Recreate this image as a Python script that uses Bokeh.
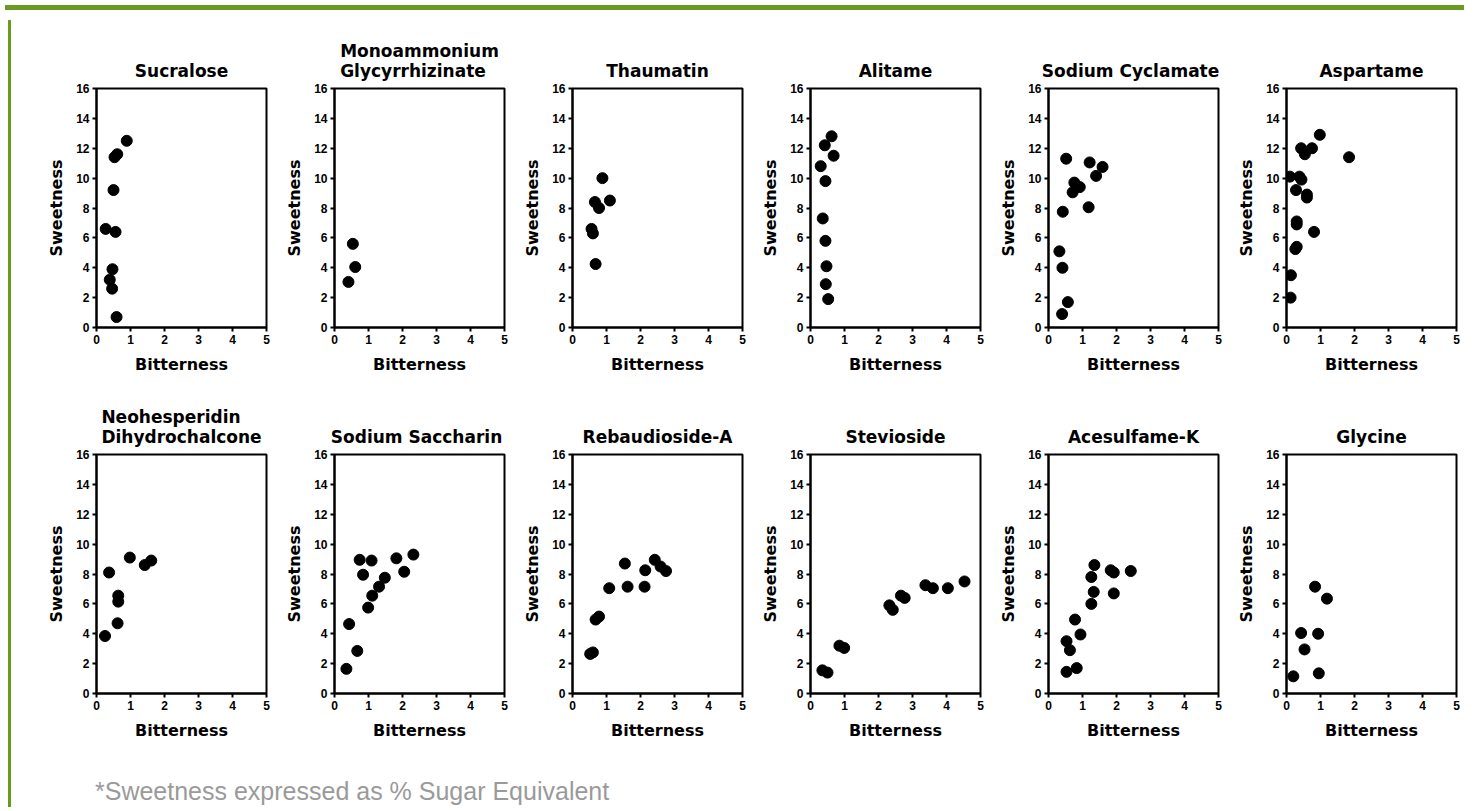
from bokeh.plotting import figure
from bokeh.layouts import row, column
from bokeh.models import Range1d, Div, Spacer, FixedTicker
from bokeh.embed import file_html
from bokeh.resources import INLINE

# ---------------- data ----------------
titles_top = ["Sucralose", "Monoammonium\nGlycyrrhizinate", "Thaumatin",
              "Alitame", "Sodium  Cyclamate", "Aspartame"]
titles_bottom = ["Neohesperidin\nDihydrochalcone", "Sodium  Saccharin",
                 "Rebaudioside-A", "Stevioside", "Acesulfame-K", "Glycine"]

x_ticks = [0, 1, 2, 3, 4, 5]
y_ticks = [0, 2, 4, 6, 8, 10, 12, 14, 16]
x_label = "Bitterness"
y_label = "Sweetness"
footnote = "*Sweetness expressed as % Sugar Equivalent"

sucralose_x = [0.89, 0.61, 0.53, 0.50, 0.27, 0.56, 0.47, 0.39, 0.46, 0.59]
sucralose_y = [12.5, 11.6, 11.4, 9.2, 6.6, 6.4, 3.9, 3.2, 2.6, 0.7]

glycyrrhizinate_x = [0.54, 0.61, 0.41]
glycyrrhizinate_y = [5.6, 4.05, 3.05]

thaumatin_x = [0.88, 1.10, 0.66, 0.78, 0.56, 0.60, 0.68]
thaumatin_y = [10.0, 8.5, 8.4, 8.0, 6.6, 6.3, 4.25]

alitame_x = [0.62, 0.42, 0.68, 0.30, 0.44, 0.36, 0.44, 0.47, 0.45, 0.52]
alitame_y = [12.8, 12.2, 11.5, 10.8, 9.8, 7.3, 5.8, 4.1, 2.9, 1.9]

cyclamate_x = [0.52, 1.21, 1.59, 1.40, 0.76, 0.92, 0.71, 1.18, 0.42, 0.32, 0.41, 0.57, 0.40]
cyclamate_y = [11.3, 11.05, 10.75, 10.15, 9.7, 9.4, 9.05, 8.05, 7.75, 5.1, 4.0, 1.7, 0.9]

aspartame_x = [0.98, 0.43, 0.75, 0.54, 1.84, 0.10, 0.38, 0.44, 0.28, 0.60, 0.60,
               0.30, 0.30, 0.81, 0.30, 0.26, 0.13, 0.12]
aspartame_y = [12.9, 12.0, 12.0, 11.6, 11.4, 10.1, 10.1, 9.9, 9.2, 8.9, 8.7,
               7.1, 6.9, 6.4, 5.4, 5.25, 3.5, 2.0]

nhdc_x = [0.25, 0.37, 0.64, 0.64, 0.62, 0.98, 1.42, 1.61]
nhdc_y = [3.85, 8.1, 6.55, 6.15, 4.7, 9.1, 8.6, 8.9]

saccharin_x = [0.35, 0.43, 0.67, 0.74, 1.09, 0.84, 0.99, 1.11, 1.31, 1.48, 1.82, 2.05, 2.32]
saccharin_y = [1.65, 4.65, 2.85, 8.95, 8.9, 7.95, 5.75, 6.55, 7.15, 7.75, 9.05, 8.15, 9.3]

rebaudioside_x = [0.52, 0.60, 0.68, 0.78, 1.08, 1.54, 1.62, 2.12, 2.14, 2.42, 2.59, 2.75]
rebaudioside_y = [2.65, 2.75, 4.95, 5.15, 7.05, 8.7, 7.15, 7.15, 8.25, 8.95, 8.5, 8.2]

stevioside_x = [0.35, 0.50, 0.85, 0.99, 2.32, 2.42, 2.66, 2.77, 3.38, 3.60, 4.04, 4.53]
stevioside_y = [1.55, 1.40, 3.2, 3.05, 5.9, 5.6, 6.55, 6.4, 7.25, 7.05, 7.05, 7.5]

acesulfame_x = [0.53, 0.83, 0.53, 0.63, 0.78, 0.94, 1.26, 1.26, 1.35, 1.33, 1.83, 1.92, 1.92, 2.42]
acesulfame_y = [1.45, 1.7, 3.5, 2.9, 4.95, 3.95, 6.0, 7.8, 8.6, 6.8, 8.25, 8.1, 6.7, 8.2]

glycine_x = [0.20, 0.43, 0.53, 0.84, 0.93, 0.95, 1.19]
glycine_y = [1.15, 4.05, 2.95, 7.15, 4.0, 1.35, 6.35]

top_data = [(sucralose_x, sucralose_y), (glycyrrhizinate_x, glycyrrhizinate_y),
            (thaumatin_x, thaumatin_y), (alitame_x, alitame_y),
            (cyclamate_x, cyclamate_y), (aspartame_x, aspartame_y)]
bottom_data = [(nhdc_x, nhdc_y), (saccharin_x, saccharin_y),
               (rebaudioside_x, rebaudioside_y), (stevioside_x, stevioside_y),
               (acesulfame_x, acesulfame_y), (glycine_x, glycine_y)]

# ---------------- style ----------------
GREEN = "#6a9a1e"
LABEL_FONT = "DejaVu Sans"
TICK_FONT = "Liberation Sans"
BORDER_LEFT = 56
BORDER_RIGHT = 12


def panel(title, xs, ys):
    p = figure(frame_width=170, frame_height=239,
               min_border_left=BORDER_LEFT, min_border_right=BORDER_RIGHT,
               min_border_top=73, min_border_bottom=54,
               x_range=Range1d(0, 5), y_range=Range1d(0, 16),
               output_backend="svg", toolbar_location=None, tools="",
               background_fill_color="white", border_fill_color="white")
    p.title.text = title
    p.title.align = "center"
    p.title.text_font = LABEL_FONT
    p.title.text_font_size = "17px"
    p.title.text_font_style = "bold"
    p.title.text_color = "black"
    p.title.standoff = 16

    p.grid.visible = False
    p.outline_line_color = "black"
    p.outline_line_width = 2
    p.outline_line_alpha = 1

    for ax, lab, ticks in ((p.xaxis[0], x_label, x_ticks), (p.yaxis[0], y_label, y_ticks)):
        ax.ticker = FixedTicker(ticks=ticks)
        ax.axis_label = lab
        ax.axis_label_text_font = LABEL_FONT
        ax.axis_label_text_font_style = "bold"
        ax.axis_label_text_font_size = "16px"
        ax.axis_label_text_color = "black"
        ax.major_label_text_font = TICK_FONT
        ax.major_label_text_font_style = "bold"
        ax.major_label_text_font_size = "12px"
        ax.major_label_text_color = "black"
        ax.major_label_standoff = 3
        ax.major_tick_out = 4
        ax.major_tick_in = 0
        ax.minor_tick_out = 0
        ax.minor_tick_in = 0
        ax.axis_line_width = 2
        ax.major_tick_line_width = 2
        ax.axis_line_color = "black"
        ax.major_tick_line_color = "black"
    p.xaxis[0].axis_label_standoff = 8
    p.yaxis[0].axis_label_standoff = 7

    p.scatter(xs, ys, size=11, color="black", line_color="black")
    return p


top_figs = [panel(t, xs, ys) for t, (xs, ys) in zip(titles_top, top_data)]
bottom_figs = [panel(t, xs, ys) for t, (xs, ys) in zip(titles_bottom, bottom_data)]

topbar = Div(text="", width=1459, height=5, styles={"background-color": GREEN})
leftbar = Div(text="", width=3, height=787, styles={"background-color": GREEN})
note = Div(text=footnote, width=640, height=27,
           styles={"font-family": "Liberation Sans, Arial, sans-serif",
                   "font-size": "25px", "color": "#9a9a9a", "line-height": "27px"})

inner = column(row(*top_figs), row(*bottom_figs), Spacer(height=26),
               row(Spacer(width=50), note))
layout = column(topbar, row(Spacer(width=3), leftbar, Spacer(width=24), inner))

open("out.html", "w").write(file_html(layout, INLINE))
